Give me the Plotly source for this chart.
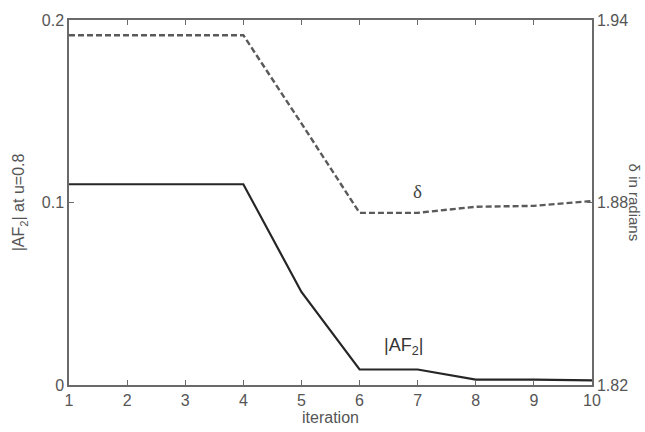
import plotly.graph_objects as go

iterations = [1, 2, 3, 4, 5, 6, 7, 8, 9, 10]
af2 = [0.11, 0.11, 0.11, 0.11, 0.051, 0.0085, 0.0085, 0.003, 0.003, 0.0025]
delta = [1.935, 1.935, 1.935, 1.935, 1.906, 1.8766, 1.8766, 1.8786, 1.8789, 1.8805]
x_ticks = [1, 2, 3, 4, 5, 6, 7, 8, 9, 10]
left_ticks = [0, 0.1, 0.2]
left_labels = ["0", "0.1", "0.2"]
right_ticks = [1.82, 1.88, 1.94]
right_labels = ["1.82", "1.88", "1.94"]

axis_col = "#6a6a6a"
text_col = "#555555"
font_fam = "Arial, Liberation Sans, sans-serif"

fig = go.Figure()
fig.add_trace(go.Scatter(x=iterations, y=af2, mode="lines",
                         line=dict(color="#262626", width=2.2), yaxis="y"))
fig.add_trace(go.Scatter(x=iterations, y=delta, mode="lines",
                         line=dict(color="#5a5a5a", width=2.4, dash="6px,3px"), yaxis="y2"))

fig.update_layout(
    width=645, height=432,
    margin=dict(l=69, r=53, t=13, b=44),
    paper_bgcolor="white", plot_bgcolor="white",
    showlegend=False,
    font=dict(family=font_fam, color=text_col, size=16),
    xaxis=dict(range=[1, 10], tickvals=x_ticks, ticktext=[str(v) for v in x_ticks],
               showline=True, linecolor=axis_col, linewidth=1.5, mirror="ticks",
               ticks="inside", ticklen=5, tickcolor=axis_col, showgrid=False, zeroline=False,
               tickfont=dict(size=16, color=text_col),
               title=dict(text="iteration", standoff=0, font=dict(size=16, color=text_col))),
    yaxis=dict(range=[0, 0.2], tickvals=left_ticks, ticktext=left_labels,
               showline=True, linecolor=axis_col, linewidth=1.5,
               ticks="inside", ticklen=5, tickcolor=axis_col, showgrid=False, zeroline=False,
               tickfont=dict(size=16, color=text_col)),
    yaxis2=dict(range=[1.82, 1.94], tickvals=right_ticks, ticktext=right_labels,
                overlaying="y", side="right",
                showline=True, linecolor=axis_col, linewidth=1.5,
                ticks="inside", ticklen=5, tickcolor=axis_col, showgrid=False, zeroline=False,
                tickfont=dict(size=16, color=text_col)),
)

fig.add_annotation(text="|AF<sub>2</sub>| at u=0.8", xref="paper", yref="paper",
                   x=-0.094, y=0.5, textangle=-90, showarrow=False,
                   font=dict(size=16, color=text_col), xanchor="center", yanchor="middle")
fig.add_annotation(text="δ in radians", xref="paper", yref="paper",
                   x=1.082, y=0.5, textangle=90, showarrow=False,
                   font=dict(size=15, color=text_col), xanchor="center", yanchor="middle")
fig.add_annotation(text="δ", x=7.0, y=1.8835, xref="x", yref="y2", showarrow=False,
                   font=dict(family="Times New Roman, Liberation Serif, serif", size=19, color="#444444"))
fig.add_annotation(text="|AF<sub>2</sub>|", x=6.75, y=0.021, xref="x", yref="y", showarrow=False,
                   font=dict(size=18, color="#333333"))

fig.write_html("out.html")
